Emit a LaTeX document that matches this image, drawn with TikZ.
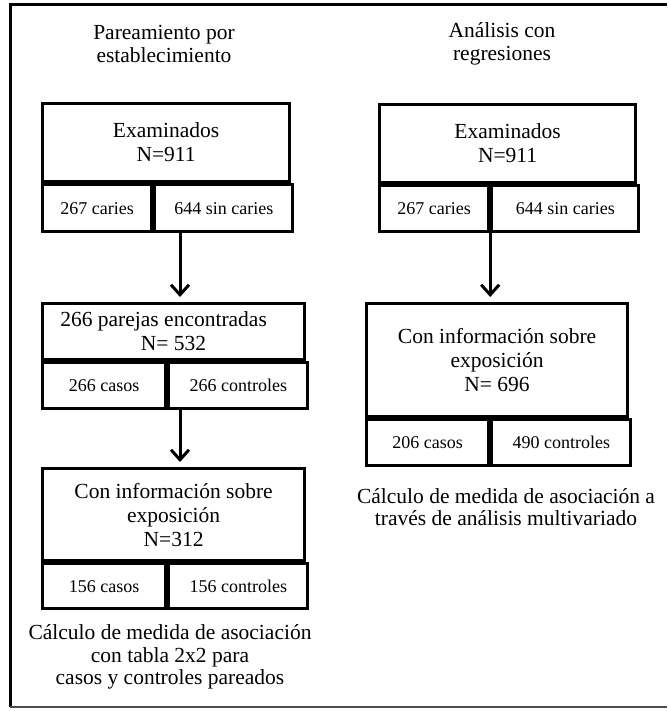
\documentclass[tikz,border=0pt]{standalone}
\usepackage{fontspec}
\setmainfont{Liberation Serif}
\usetikzlibrary{positioning,calc,arrows.meta}

\tikzset{
  boxtop/.style={draw, line width=3.2pt, anchor=north west, inner sep=0pt,
    align=center, font=\fontsize{21.5}{24}\selectfont},
  boxcell/.style={draw, line width=3.2pt, anchor=north west, inner sep=0pt,
    font=\fontsize{18}{20}\selectfont},
  notetext/.style={align=center, font=\fontsize{21.5}{22.5}\selectfont},
  flow/.style={line width=3pt, -{Straight Barb[length=10pt,width=18pt]}, shorten >=5pt}
}

\begin{document}
\begin{tikzpicture}[x=1pt, y=-1pt]
    \useasboundingbox (0,0) rectangle (667,711);
    % frame
    \draw[line width=3pt] (667,5) -- (10,5) -- (10,707);
    \draw[line width=2.4pt, black!70] (10,707) -- (667,707);

    \node[notetext] (tL) at (164,44) {Pareamiento por\\establecimiento};
    \node[notetext] (tR) at (502,44) {Análisis con\\regresiones};

    % left column
    \node[boxtop, minimum width=247pt, minimum height=78pt] (L1) at (41,102) {Examinados\\N=911};
    \node[boxcell, minimum width=109pt, minimum height=47pt] (L1a) at (L1.south west) {267 caries};
    \node[boxcell, minimum width=138pt, minimum height=47pt] (L1b) at (L1a.north east) {644 sin caries};

    \node[boxtop, minimum width=262pt, minimum height=56pt] (L2) at (41,302) {266 parejas encontradas\hspace*{20pt}\\N= 532};
    \node[boxcell, minimum width=123pt, minimum height=46pt] (L2a) at (L2.south west) {266 casos};
    \node[boxcell, minimum width=139pt, minimum height=46pt] (L2b) at (L2a.north east) {266 controles};

    \node[boxtop, minimum width=262pt, minimum height=92pt] (L3) at (41,467) {Con información sobre\\exposición\\N=312};
    \node[boxcell, minimum width=123pt, minimum height=45pt] (L3a) at (L3.south west) {156 casos};
    \node[boxcell, minimum width=139pt, minimum height=45pt] (L3b) at (L3a.north east) {156 controles};

    \node[notetext] (nL) at (170,657) {Cálculo de medida de asociación\\con tabla 2x2 para\\casos y controles pareados};

    % right column
    \node[boxtop, minimum width=256pt, minimum height=78pt] (R1) at (378,103) {Examinados\\N=911};
    \node[boxcell, minimum width=109pt, minimum height=46pt] (R1a) at (R1.south west) {267 caries};
    \node[boxcell, minimum width=147pt, minimum height=46pt] (R1b) at (R1a.north east) {644 sin caries};

    \node[boxtop, minimum width=261pt, minimum height=113pt] (R2) at (365,302) {Con información sobre\\exposición\\N= 696};
    \node[boxcell, minimum width=122pt, minimum height=46pt] (R2a) at (R2.south west) {206 casos};
    \node[boxcell, minimum width=139pt, minimum height=46pt] (R2b) at (R2a.north east) {490 controles};

    \node[notetext] (nR) at (506,507) {Cálculo de medida de asociación a\\través de análisis multivariado};

    % arrows
    \coordinate (colL) at (180,0);
    \draw[flow] (L1b.south -| colL) -- (L2.north -| colL);
    \draw[flow] (L2b.south -| colL) -- (L3.north -| colL);
    \draw[flow] (R1b.south west) -- (R2.north -| R1b.south west);
\end{tikzpicture}
\end{document}
